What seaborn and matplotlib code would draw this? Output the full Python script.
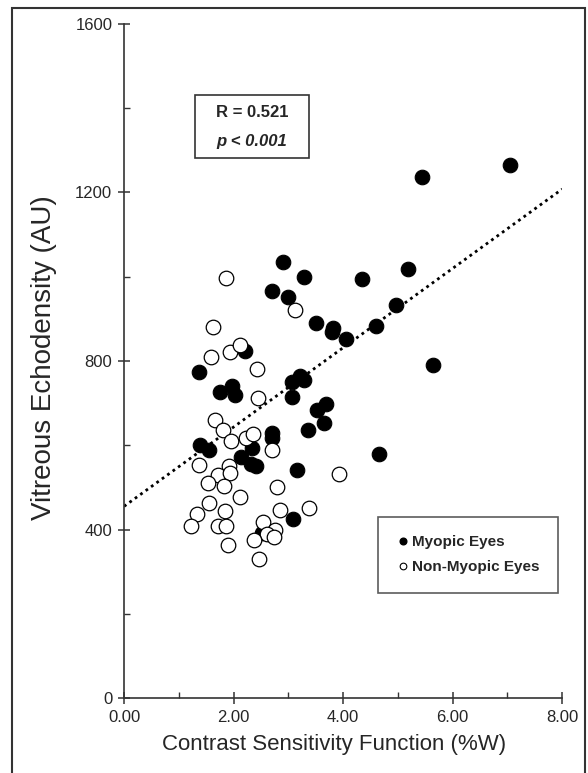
import numpy as np
import pandas as pd
import matplotlib.pyplot as plt
import seaborn as sns
from matplotlib.patches import Rectangle
from matplotlib.lines import Line2D
from matplotlib.ticker import MultipleLocator, FormatStrFormatter

# ===============================
# Data
# ===============================
myopic_csf = [2.90, 3.29, 2.70, 3.00, 3.50, 2.20, 1.36, 1.76, 1.98, 2.03,
              3.07, 3.21, 3.29, 3.06, 3.52, 3.69, 3.35, 3.66, 2.70, 2.71,
              2.33, 1.39, 1.56, 2.14, 2.32, 2.41, 3.16, 3.09, 2.52, 5.44,
              7.05, 4.35, 5.19, 4.96, 3.81, 3.79, 4.05, 4.60, 5.65, 4.65]
myopic_echo = [1036, 1000, 967, 953, 889, 823, 773, 727, 741, 719,
               749, 765, 756, 715, 683, 699, 636, 652, 628, 617,
               593, 600, 588, 572, 556, 550, 542, 425, 391, 1236,
               1266, 995, 1019, 932, 878, 870, 853, 884, 791, 580]

nonmyopic_csf = [1.86, 3.12, 1.62, 1.58, 1.94, 2.12, 2.43, 2.44, 1.66, 1.80,
                 1.95, 2.23, 2.35, 2.70, 1.36, 1.91, 1.72, 1.94, 1.54, 1.83,
                 2.79, 2.12, 3.93, 1.55, 1.84, 1.33, 2.85, 3.37, 1.22, 1.72,
                 1.86, 2.53, 2.76, 2.61, 2.74, 2.37, 1.89, 2.47]
nonmyopic_echo = [998, 920, 881, 810, 821, 838, 781, 713, 659, 637,
                  609, 617, 626, 589, 552, 550, 530, 534, 510, 504,
                  501, 477, 531, 462, 443, 437, 446, 451, 409, 409,
                  409, 417, 399, 389, 383, 375, 363, 329]

# fitted line as drawn in the figure (ends)
fit_csf = [0.0, 8.0]
fit_echo = [455, 1208]

group_labels = ["Myopic Eyes", "Non-Myopic Eyes"]
stats_r = "R = 0.521"
stats_p = "p < 0.001"

df = pd.concat([
    pd.DataFrame({"csf": myopic_csf, "echo": myopic_echo, "group": group_labels[0]}),
    pd.DataFrame({"csf": nonmyopic_csf, "echo": nonmyopic_echo, "group": group_labels[1]}),
], ignore_index=True)

# ===============================
# Style
# ===============================
sns.set_style("ticks")
plt.rcParams['font.family'] = ['Liberation Sans', 'DejaVu Sans']

fig = plt.figure(figsize=(5.88, 7.73), dpi=100)
ax = fig.add_axes([0.211, 0.097, 0.745, 0.872])

# regression line
ax.plot(fit_csf, fit_echo, color="black", lw=2, linestyle=(0, (1, 1.4)),
        zorder=2)

# scatter points
sns.scatterplot(data=df[df.group == group_labels[0]], x="csf", y="echo", ax=ax,
                color="black", edgecolor="black", s=110, linewidth=0.8,
                legend=False, zorder=3)
sns.scatterplot(data=df[df.group == group_labels[1]], x="csf", y="echo", ax=ax,
                color="white", edgecolor="black", s=110, linewidth=0.9,
                legend=False, zorder=4)

ax.set_xlim(0, 8)
ax.set_ylim(0, 1600)

# ===============================
# Axes formatting
# ===============================
sns.despine(ax=ax)
for sp in ["left", "bottom"]:
    ax.spines[sp].set_color("#333333")
    ax.spines[sp].set_linewidth(1.2)

ax.xaxis.set_major_locator(MultipleLocator(2))
ax.xaxis.set_minor_locator(MultipleLocator(1))
ax.yaxis.set_major_locator(MultipleLocator(400))
ax.yaxis.set_minor_locator(MultipleLocator(200))
ax.xaxis.set_major_formatter(FormatStrFormatter("%.2f"))
ax.tick_params(which="major", direction="inout", length=9, width=1.1,
               color="#333333", labelsize=12, pad=4)
ax.tick_params(which="minor", direction="in", length=4, width=1.0,
               color="#333333")

ax.set_xlabel("Contrast Sensitivity Function (%W)", fontsize=16)
ax.set_ylabel("Vitreous Echodensity (AU)", fontsize=20)
ax.xaxis.set_label_coords(0.479, -0.053)
ax.yaxis.set_label_coords(-0.152, 0.505)

# stats box
ax.add_patch(Rectangle((0.162, 0.801), 0.26, 0.094, transform=ax.transAxes,
                       fill=False, edgecolor="#333333", lw=1.2))
ax.text(0.292, 0.868, stats_r, transform=ax.transAxes, ha="center",
        va="center", fontsize=12, fontweight="bold")
ax.text(0.292, 0.826, stats_p, transform=ax.transAxes, ha="center",
        va="center", fontsize=12, fontweight="bold", fontstyle="italic")

# legend
handles = [
    Line2D([], [], marker="o", ls="none", markersize=4.8,
           markerfacecolor="black", markeredgecolor="black"),
    Line2D([], [], marker="o", ls="none", markersize=4.8,
           markerfacecolor="white", markeredgecolor="black", markeredgewidth=0.8),
]
leg = ax.legend(handles, group_labels, loc="upper left",
                bbox_to_anchor=(0.580, 0.2686), borderaxespad=0,
                frameon=True, fancybox=False,
                borderpad=1.2, handletextpad=0.2, handlelength=0.8,
                labelspacing=0.72, prop=dict(size=11, weight="bold"))
leg.get_frame().set_edgecolor("#333333")
leg.get_frame().set_linewidth(1.2)

# outer frame round the whole figure
fig.add_artist(Rectangle((12 / 588, -0.02), 573 / 588, 1.02 - 8 / 773,
                         transform=fig.transFigure, fill=False,
                         edgecolor="#333333", lw=1.5))

fig.savefig("out.png", dpi=100)
